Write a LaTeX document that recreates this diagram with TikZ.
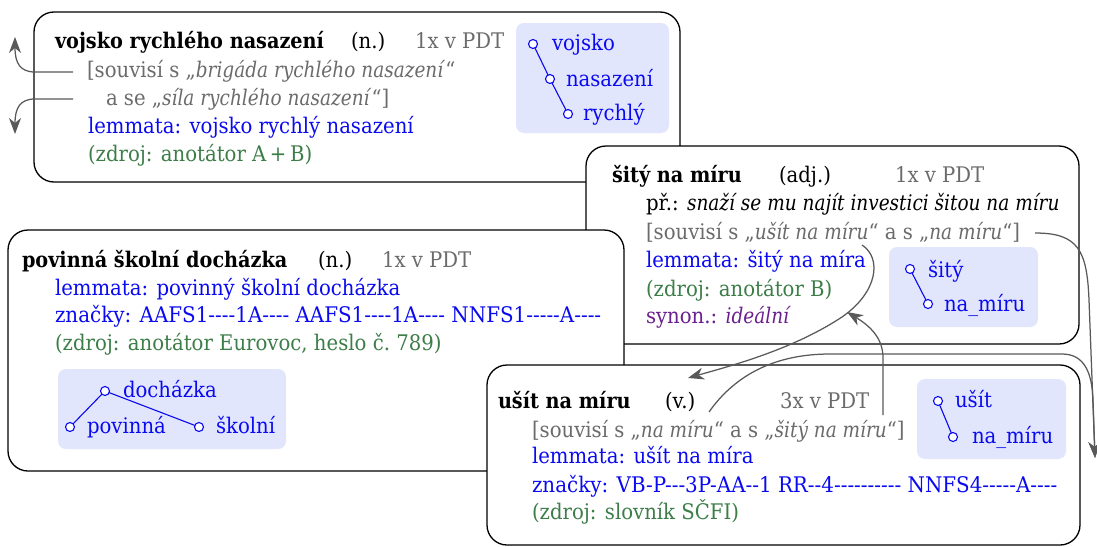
\documentclass[tikz,border=0pt]{standalone}
\usepackage{fontspec}
\setmainfont{DejaVu Serif}[FakeStretch=0.915, BoldFeatures={FakeStretch=0.895}, ItalicFeatures={FakeStretch=0.86}]
\newfontfamily\plainfont{DejaVu Serif}[FakeStretch=0.925]
\usetikzlibrary{arrows.meta}
\definecolor{txtgray}{HTML}{6B6B6B}
\definecolor{lemblue}{HTML}{0A0AF0}
\definecolor{srcgreen}{HTML}{3C7D48}
\definecolor{synpurple}{HTML}{6A1F8E}
\definecolor{treefill}{HTML}{E2E6FC}
\definecolor{conngray}{HTML}{595959}
\tikzset{conntip/.tip={Stealth[length=16pt,width=12pt,inset=5pt]}}
\begin{document}
\begin{tikzpicture}[x=1pt,y=-1pt,
  every node/.style={inner sep=0pt, outer sep=0pt, anchor=base west, font=\fontsize{21.5}{26}\selectfont},
  entry/.style={draw=black, line width=1.3pt, fill=white, rounded corners=20pt},
  treebox/.style={fill=treefill, rounded corners=8pt},
  head/.style={font=\fontsize{21.5}{26}\selectfont\bfseries},
  freq/.style={text=txtgray},
  rel/.style={text=txtgray},
  lem/.style={text=lemblue},
  src/.style={text=srcgreen},
  syn/.style={text=synpurple},
  tnode/.style={circle, draw=lemblue, fill=white, line width=1.1pt, minimum size=9pt, inner sep=0pt, anchor=center},
  tedge/.style={draw=lemblue, line width=1.1pt},
  tlabel/.style={text=lemblue},
  conn/.style={draw=conngray, line width=1.25pt, -conntip},
]
\useasboundingbox (0,0) rectangle (1097,546);

% ---- entry 1
\path[entry] (34,12) rectangle (680,182);
\path[treebox] (516,23) rectangle (669,133);
\node[head] (h1) at (55,48) {vojsko rychlého nasazení};
\node (p1) at (351,48) {(n.)};
\node[freq] (f1) at (415,48) {1x v PDT};
\node[rel] (r1a) at (87,77) {[souvisí s „\textit{brigáda rychlého nasazení}“};
\node[rel] (r1b) at (106,105) {a se „\textit{síla rychlého nasazení}“]};
\node[lem] (l1) at (88,133) {lemmata: vojsko rychlý nasazení};
\node[src] (z1) at (88,161) {(zdroj: anotátor A\,+\,B)};
\node[tnode] (v1) at (533,44) {};
\node[tnode] (v2) at (550,79) {};
\node[tnode] (v3) at (568,114) {};
\draw[tedge] (v1) -- (v2) -- (v3);
\node[tlabel] (w1) at (552,50) {vojsko};
\node[tlabel] (w2) at (566,86) {nasazení};
\node[tlabel] (w3) at (583,120) {rychlý};

% ---- entry 2
\path[entry] (586,146) rectangle (1079,344);
\path[treebox] (889,247) rectangle (1038,327);
\node[head] (h2) at (612,182) {šitý na míru};
\node (p2) at (779,182) {(adj.)};
\node[freq] (f2) at (895,182) {1x v PDT};
\node (x2) at (646,210) {př.: \textit{snaží se mu najít investici šitou na míru}};
\node[rel] (r2) at (646,239) {[souvisí s „\textit{ušít na míru}“ a s „\textit{na míru}“]};
\node[lem] (l2) at (646,267) {lemmata: šitý na míra};
\node[src] (z2) at (646,296) {(zdroj: anotátor B)};
\node[syn] (y2) at (646,323) {synon.: \textit{ideální}};
\node[tnode] (s1) at (910,269) {};
\node[tnode] (s2) at (928,304) {};
\draw[tedge] (s1) -- (s2);
\node[tlabel] (sl1) at (928,277) {šitý};
\node[tlabel] (sl2) at (944,311) {na\_míru};

% ---- entry 3
\path[entry] (8,230) rectangle (624,471);
\path[treebox] (58,369) rectangle (286,449);
\node[head] (h3) at (22,267) {povinná školní docházka};
\node (p3) at (318,267) {(n.)};
\node[freq] (f3) at (382,267) {1x v PDT};
\node[lem] (l3) at (55,295) {lemmata: povinný školní docházka};
\node[lem] (g3) at (55,322) {\plainfont značky: AAFS1----1A---- AAFS1----1A---- NNFS1-----A----};
\node[src] (z3) at (55,350) {(zdroj: anotátor Eurovoc, heslo č.~789)};
\node[tnode] (d1) at (105,391) {};
\node[tnode] (d2) at (70,427) {};
\node[tnode] (d3) at (199,427) {};
\draw[tedge] (d2) -- (d1) -- (d3);
\node[tlabel] (dl1) at (123,397) {docházka};
\node[tlabel] (dl2) at (87,433) {povinná};
\node[tlabel] (dl3) at (216,433) {školní};

% ---- entry 4
\path[entry] (487,365) rectangle (1080,545);
\path[treebox] (917,379) rectangle (1066,459);
\node[head] (h4) at (498,408) {ušít na míru};
\node (p4) at (665,408) {(v.)};
\node[freq] (f4) at (780,408) {3x v PDT};
\node[rel] (r4) at (532,437) {[souvisí s „\textit{na míru}“ a s „\textit{šitý na míru}“]};
\node[lem] (l4) at (532,463) {lemmata: ušít na míra};
\node[lem] (g4) at (532,492) {\plainfont značky: VB-P---3P-AA--1 RR--4---------- NNFS4-----A----};
\node[src] (z4) at (532,519) {(zdroj: slovník SČFI)};
\node[tnode] (u1) at (938,401) {};
\node[tnode] (u2) at (953,437) {};
\draw[tedge] (u1) -- (u2);
\node[tlabel] (ul1) at (955,407) {ušít};
\node[tlabel] (ul2) at (972,443) {na\_míru};

% ---- connectors
\coordinate (e1) at (73,72);
\coordinate (e2) at (73,99);
\coordinate (up1) at (15,37);
\coordinate (dn1) at (15,134);
\draw[conn] (e1) -- (35,72) .. controls (20,72) and (15,63) .. (up1);
\draw[conn] (e2) -- (35,99) .. controls (20,99) and (15,108) .. (dn1);

\coordinate (a0) at (862,245);
\coordinate (a1) at (688,378);
\draw[conn] (a0) .. controls (882,258) and (878,292) .. (842,317) .. controls (792,350) and (730,366) .. (a1);

\coordinate (nm) at (1095,458);
\coordinate (b0) at (709,412);
\draw[conn] (b0) .. controls (735,375) and (775,354) .. (830,354) -- (1062,354) .. controls (1084,354) and (1092,372) .. (1093,400) -- (nm);

\coordinate (d0) at (1035,233);
\draw[conn] (d0) .. controls (1078,233) and (1087,250) .. (1089,300) -- (nm);

\coordinate (c0) at (883,415);
\coordinate (c1) at (847,312);
\draw[conn] (c0) -- (883,358) .. controls (883,338) and (870,326) .. (c1);
\end{tikzpicture}
\end{document}
